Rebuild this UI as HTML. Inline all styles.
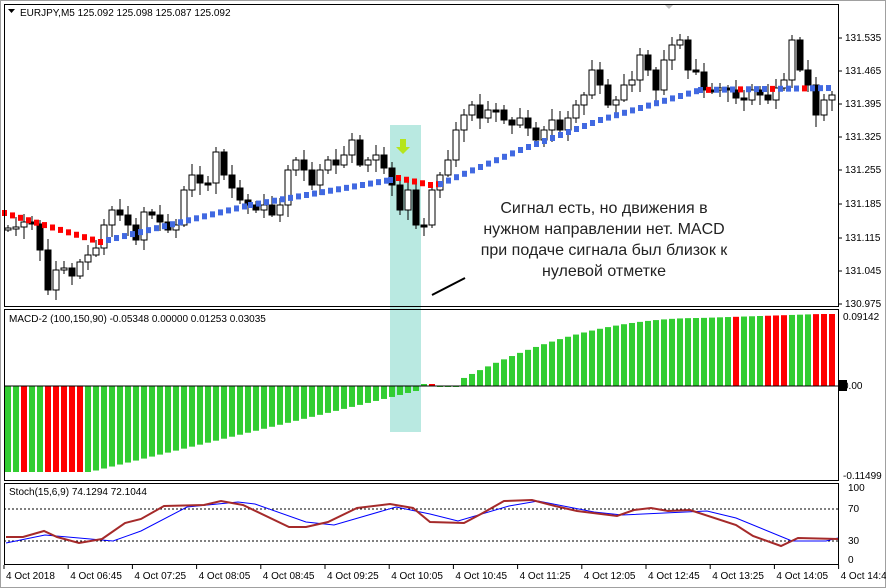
<!DOCTYPE html>
<html><head><meta charset="utf-8"><style>
body{margin:0;background:#fff;width:886px;height:588px;overflow:hidden;font-family:"Liberation Sans","DejaVu Sans",sans-serif}
svg{display:block}
</style></head><body>
<svg id="s" width="886" height="588" xmlns="http://www.w3.org/2000/svg" font-family="Liberation Sans, DejaVu Sans, sans-serif">
<rect x="0" y="0" width="886" height="588" fill="#fff"/>
<rect x="0.5" y="0.5" width="885" height="587" fill="none" stroke="#a0a0a0"/>
<rect x="390" y="125" width="31" height="307" fill="#b9e9e1"/>
<g id="g"></g>
<path d="M400 139 v8 h-4 l7 7 l7 -7 h-4 v-8z" fill="#b5e51d"/>
<line x1="432" y1="295" x2="465" y2="278" stroke="#000" stroke-width="2"/>
<g font-size="16" fill="#222" text-anchor="middle" font-family="Liberation Sans, sans-serif">
<text x="604" y="213">Сигнал есть, но движения в</text>
<text x="604" y="234">нужном направлении нет. MACD</text>
<text x="604" y="255">при подаче сигнала был близок к</text>
<text x="604" y="276">нулевой отметке</text>
</g>
<g font-size="10" fill="#000">
<text x="20" y="16">EURJPY,M5  125.092 125.098 125.087 125.092</text>
<path d="M8 9 h7 l-3.5 4z" fill="#000"/>
<text x="9" y="322">MACD-2 (100,150,90) -0.05348 0.00000 0.01253 0.03035</text>
<text x="9" y="495">Stoch(15,6,9) 74.1294 72.1044</text>
</g>
<path d="M664 4 h10 l-5 5z" fill="#c0c0c0"/>
<g id="ax" font-size="10" fill="#000"></g>
<rect x="4.5" y="4.5" width="834" height="302" fill="none" stroke="#000"/>
<rect x="4.5" y="309.5" width="834" height="171" fill="none" stroke="#000"/>
<rect x="4.5" y="483.5" width="834" height="81" fill="none" stroke="#000"/>
</svg>
<script>
var NS="http://www.w3.org/2000/svg",g=document.getElementById('g'),ax=document.getElementById('ax');
function el(t,a,p){var e=document.createElementNS(NS,t);for(var k in a)e.setAttribute(k,a[k]);(p||g).appendChild(e);return e;}
function tx(x,y,s,p){var e=el('text',{x:x,y:y},p||ax);e.textContent=s;}
var pl=[["131.535",38],["131.465",71],["131.395",104],["131.325",137],["131.255",170],["131.185",204],["131.115",238],["131.045",271],["130.975",304]];
pl.forEach(function(p){el('line',{x1:838,y1:p[1],x2:842,y2:p[1],stroke:'#000'},ax);tx(845,p[1]+3,p[0]);});
tx(843,320,"0.09142");tx(843,479,"-0.11499");
el('rect',{x:839,y:380,width:8,height:11,fill:'#000'},ax);tx(843,389,"0.00");
[["100",491],["70",512],["30",544],["0",563]].forEach(function(p){tx(848,p[1],p[0]);});
var tl=["4 Oct 2018","4 Oct 06:45","4 Oct 07:25","4 Oct 08:05","4 Oct 08:45","4 Oct 09:25","4 Oct 10:05","4 Oct 10:45","4 Oct 11:25","4 Oct 12:05","4 Oct 12:45","4 Oct 13:25","4 Oct 14:05","4 Oct 14:45"];
tl.forEach(function(s,i){var x=4+i*64.2;el('line',{x1:x,y1:565,x2:x,y2:569,stroke:'#000'},ax);tx(x+2,579,s);});
var C=[228,227,222,224,250,290,270,268,276,262,255,248,225,210,215,225,240,212,215,222,230,225,190,175,183,183,152,175,188,200,205,210,205,215,205,170,160,170,185,170,160,165,155,140,165,160,155,168,185,210,190,225,225,190,175,160,130,115,105,118,110,110,120,125,118,128,140,130,120,130,118,105,95,70,85,105,100,85,80,55,70,90,60,45,40,70,72,90,90,88,90,98,100,90,95,100,88,80,40,70,85,115,100,95];
var prev=230;
for(var i=0;i<C.length;i++){var x=8+i*8,o=prev,c=C[i];var tp=Math.min(o,c),bt=Math.max(o,c);if(bt-tp<2){bt=tp+2;}
var hh=tp-3-((i*7)%9),ll=bt+2+((i*5)%11);
el('line',{x1:x,y1:hh,x2:x,y2:ll,stroke:'#000'});
el('rect',{x:x-3,y:tp,width:6,height:bt-tp,fill:c<o?'#fff':'#000',stroke:'#000'});prev=c;}
var M=[[4,213,'r'],[100,242,'r'],[108,240,'b'],[250,205,'b'],[390,180,'b'],[398,178,'r'],[430,185,'r'],[440,184,'b'],[520,150,'b'],[600,120,'b'],[700,90,'b'],[830,88,'b']];
for(var k=0;k<M.length-1;k++){var a=M[k],b=M[k+1];for(var x=a[0];x<b[0];x+=8){var y=a[1]+(b[1]-a[1])*(x-a[0])/(b[0]-a[0]);var col=a[2]=='r'?'#f00':'#4169e1';if(x>700&&((x/8)%4<1.5))col='#f00';el('rect',{x:x-2,y:y-3,width:5,height:6,fill:col});}}
function mv(x){if(x<90)return 86; if(x<420)return 86-(x-90)/330*82; if(x<440)return -2; if(x<460)return 0; var t=(x-460)/240; if(t>1)t=1; return -(6+62*(1-(1-t)*(1-t)))-(x>700?Math.min(4,(x-700)/30):0);}
for(var x=8;x<838;x+=8){var v=mv(x);var red=(x==24||(x>=48&&x<=80)||x==432||x==736||(x>=768&&x<=784)||x>=816);
var y0=386,y1=386+v;el('rect',{x:x-3,y:Math.min(y0,y1),width:6,height:Math.abs(v)||1,fill:red?'#f00':'#32cd32'});}
el('line',{x1:4,y1:386,x2:838,y2:386,stroke:'#000'});
el('line',{x1:4,y1:509,x2:838,y2:509,stroke:'#000','stroke-dasharray':'2,2'});
el('line',{x1:4,y1:541,x2:838,y2:541,stroke:'#000','stroke-dasharray':'2,2'});
el('polyline',{points:"6,543 45,535 113,541 141,531 187,507 238,502 255,504 306,522 334,525 396,507 430,514 458,521 509,506 538,501 594,512 622,515 707,511 736,518 792,541 826,541 838,538",fill:'none',stroke:'#0000ff'});
el('polyline',{points:"6,537 23,537 44,531 57,537 79,543 102,539 125,523 141,519 164,506 204,505 221,501 243,505 289,527 306,527 328,522 357,508 390,504 413,508 430,522 464,523 481,514 504,501 532,500 555,506 577,511 617,516 634,510 651,508 668,511 690,510 736,525 753,536 781,546 798,538 838,539",fill:'none',stroke:'#a52a2a','stroke-width':2});
</script>
</body></html>
